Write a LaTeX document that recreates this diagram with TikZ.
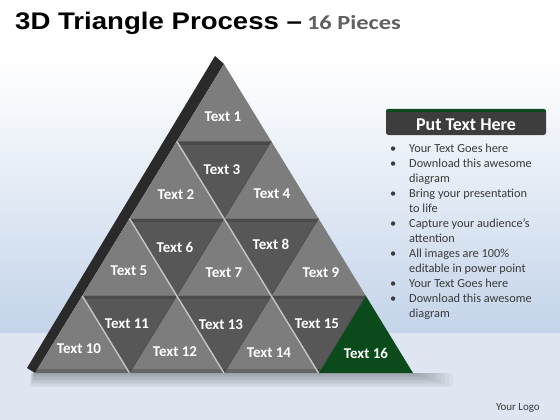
\documentclass[tikz,border=0pt]{standalone}
\usepackage{fontspec}
\usepackage{graphicx}
\setmainfont{Carlito}
\newfontfamily\arialf{Liberation Sans}
\definecolor{bgblue}{HTML}{C4D4EA}
\definecolor{floorc}{HTML}{DFE6F2}
\definecolor{upgray}{HTML}{7D7D7D}
\definecolor{dngray}{HTML}{575757}
\definecolor{dnband}{HTML}{4A4A4A}
\definecolor{sidec}{HTML}{2A2A2A}
\definecolor{hilite}{HTML}{C6C6C6}
\definecolor{greenc}{HTML}{0B4A1B}
\definecolor{subgray}{HTML}{606060}
\definecolor{headgray}{HTML}{3D3D3D}
\definecolor{bodytext}{HTML}{3A3A3A}
\tikzset{
  uptile/.style={fill=upgray},
  dntile/.style={fill=dngray},
  greentile/.style={fill=greenc},
  lbl/.style={text=white, font=\bfseries\fontsize{15}{17}\selectfont, inner sep=0pt},
  hiline/.style={draw=hilite, line width=1.4pt},
  darkline/.style={draw=dnband, line width=0.6pt}
}
\begin{document}
\begin{tikzpicture}[x=1pt,y=-1pt]
\useasboundingbox (0,0) rectangle (560,420);
% background
\fill[white] (0,0) rectangle (560,60);
\shade[top color=white, bottom color=bgblue] (0,60) rectangle (560,333);
\fill[floorc] (0,333) rectangle (560,420);
% title
\node[anchor=base west, inner sep=0pt] (title) at (15,29.5)
  {\scalebox{1.15}[1]{\arialf\bfseries\fontsize{24}{28}\selectfont 3D Triangle Process –}\hspace{5pt}\scalebox{1.22}[1]{\bfseries\fontsize{20}{24}\selectfont\color{subgray}16 Pieces}};
% grid coordinates
\coordinate (p00) at (224,64);
\coordinate (p10) at (176.75,141.25); \coordinate (p11) at (271.25,141.25);
\coordinate (p20) at (129.5,218.5); \coordinate (p21) at (224,218.5); \coordinate (p22) at (318.5,218.5);
\coordinate (p30) at (82.25,295.75); \coordinate (p31) at (176.75,295.75); \coordinate (p32) at (271.25,295.75); \coordinate (p33) at (365.75,295.75);
\coordinate (p40) at (35,373); \coordinate (p41) at (129.5,373); \coordinate (p42) at (224,373); \coordinate (p43) at (318.5,373); \coordinate (p44) at (413,373);
% shadow
\foreach \i in {1,...,10}
  \fill[black, opacity=0.03] (35-\i*0.5,373) rectangle (413+\i*4,373+\i*1.4);
% side strip
\fill[sidec] (p00) -- (p40) -- (27,368) -- (215,56) -- cycle;
% up tiles
\fill[uptile] (p10) -- (p11) -- (p00) -- cycle;
\fill[uptile] (p20) -- (p21) -- (p10) -- cycle;
\fill[uptile] (p21) -- (p22) -- (p11) -- cycle;
\fill[uptile] (p30) -- (p31) -- (p20) -- cycle;
\fill[uptile] (p31) -- (p32) -- (p21) -- cycle;
\fill[uptile] (p32) -- (p33) -- (p22) -- cycle;
\fill[uptile] (p40) -- (p41) -- (p30) -- cycle;
\fill[uptile] (p41) -- (p42) -- (p31) -- cycle;
\fill[uptile] (p42) -- (p43) -- (p32) -- cycle;
\fill[greentile] (p43) -- (p44) -- (p33) -- cycle;
% down tiles with darker top band
\foreach \a/\b/\c in {p10/p11/p21, p20/p21/p31, p21/p22/p32, p30/p31/p41, p31/p32/p42, p32/p33/p43}{
  \fill[dntile] (\a) -- (\b) -- (\c) -- cycle;
  \begin{scope}
    \clip (\a) -- (\b) -- (\c) -- cycle;
    \draw[dnband, line width=7pt] (\a) -- (\b);
  \end{scope}
}
% bottom bevel band on gray part
\begin{scope}
  \clip (p00) -- (p40) -- (p43) -- (p33) -- cycle;
  \fill[black, opacity=0.18] (30,368.5) rectangle (330,373);
\end{scope}
% dark lines along right edges of down tiles
\foreach \a/\b in {p11/p21, p21/p31, p22/p32, p31/p41, p32/p42, p33/p43}
  \draw[darkline] (\a) -- (\b);
% highlight lines along left edges of down tiles
\foreach \a/\b in {p10/p21, p20/p31, p21/p32, p30/p41, p31/p42, p32/p43}
  \draw[hiline] (\a) -- (\b);
% labels
\node[lbl] (t1) at (223,117) {Text 1};
\node[lbl] (t2) at (176,195) {Text 2};
\node[lbl] (t3) at (222,170) {Text 3};
\node[lbl] (t4) at (272,194) {Text 4};
\node[lbl] (t5) at (129,271) {Text 5};
\node[lbl] (t6) at (175,247) {Text 6};
\node[lbl] (t7) at (224,273) {Text 7};
\node[lbl] (t8) at (271,244) {Text 8};
\node[lbl] (t9) at (321,273) {Text 9};
\node[lbl] (t10) at (79,349) {Text 10};
\node[lbl] (t11) at (127,324) {Text 11};
\node[lbl] (t12) at (175,352) {Text 12};
\node[lbl] (t13) at (221,325) {Text 13};
\node[lbl] (t14) at (269,353) {Text 14};
\node[lbl] (t15) at (317,324) {Text 15};
\node[lbl] (t16) at (366,353) {Text 16};
% right panel header
\fill[headgray, rounded corners=2.5pt] (386,109) rectangle (546,135);
\begin{scope}
  \clip[rounded corners=2.5pt] (386,109) rectangle (546,135);
  \fill[greenc] (386,109) rectangle (546,112);
\end{scope}
\node[text=white, font=\bfseries\fontsize{18}{21}\selectfont, inner sep=0pt] (head) at (466,125) {Put Text Here};
% bullets
\node[anchor=base west, inner sep=0pt, text=bodytext, font=\fontsize{12.3}{15}\selectfont] (list) at (390,152)
{\begin{tabular}[t]{@{}p{19pt}@{}l@{}}
•& Your Text Goes here\\
•& Download this awesome\\
 & diagram\\
•& Bring your presentation\\
 & to life\\
•& Capture your audience’s\\
 & attention\\
•& All images are 100\%\\
 & editable in power point\\
•& Your Text Goes here\\
•& Download this awesome\\
 & diagram
\end{tabular}};
% logo text
\node[anchor=base east, inner sep=0pt, text=bodytext, font=\fontsize{11}{13}\selectfont] (logo) at (540,410) {Your Logo};
\end{tikzpicture}
\end{document}
